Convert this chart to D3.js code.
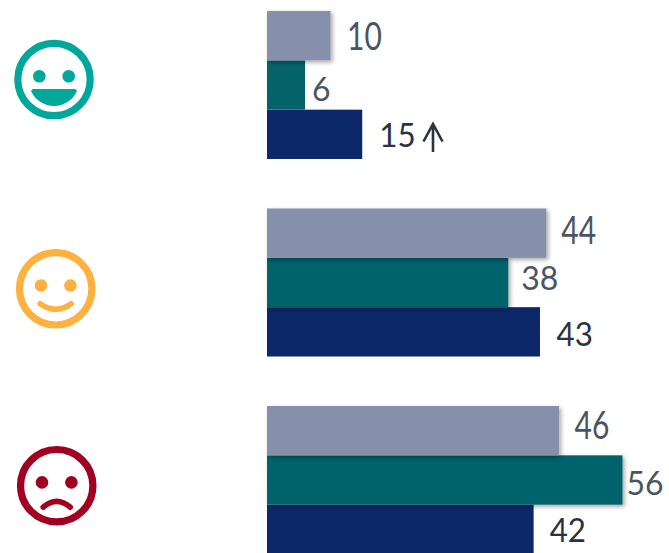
<!DOCTYPE html>
<html>
<head>
<meta charset="utf-8">
<script src="https://cdn.jsdelivr.net/npm/d3@7"></script>
<style>
  html, body { margin: 0; padding: 0; background: #fff; overflow: hidden; }
  svg { display: block; }
</style>
</head>
<body>
<div id="chart"></div>
<script>
// data
var moods = ["happy", "neutral", "sad"];
var seriesNames = ["grey", "teal", "navy"];
var greyValues = [10, 44, 46];
var tealValues = [6, 38, 56];
var navyValues = [15, 43, 42];

// colours and label look, one entry per series
var barColors = ["#8690AB", "#04626A", "#0D2869"];
var labelColors = ["#4A5564", "#4A5564", "#2B3240"];
var labelSizes = [38, 33, 33];
var labelStretch = [0.79, 0.97, 0.95];

// labels are not lined up with the bars in the original, so nudge per mood then series
var labelGaps = [[16.5, 7, 17], [15, 13, 16.5], [15.5, 4, 16]];
var labelDrops = [[14.5, 15.5, 12.5], [10.5, 7, 14], [8.5, 15, 12.7]];

var width = 669, height = 553;

var svg = d3.select("#chart")
    .append("svg")
    .attr("width", width)
    .attr("height", height);

var defs = svg.append("defs");
var shadow = defs.append("filter")
    .attr("id", "barShadow")
    .attr("x", "-10%").attr("y", "-10%")
    .attr("width", "125%").attr("height", "130%");
shadow.append("feDropShadow")
    .attr("dx", 2).attr("dy", 2)
    .attr("stdDeviation", 2.2)
    .attr("flood-color", "#000")
    .attr("flood-opacity", 0.35);

// scales
var x = d3.scaleLinear().domain([0, 56]).range([267, 622.5]);
var y0 = d3.scaleBand().domain(moods).range([11, 554]).paddingInner(0.2506).paddingOuter(0);
var y1 = d3.scaleBand().domain(seriesNames).range([0, y0.bandwidth()]);

var rows = [];
moods.forEach(function (mood, i) {
    rows.push({ mood: mood, moodIdx: i, s: 2, value: navyValues[i] });
    rows.push({ mood: mood, moodIdx: i, s: 1, value: tealValues[i] });
    rows.push({ mood: mood, moodIdx: i, s: 0, value: greyValues[i] });
});

// bars, drawn bottom up so the shadows fall on the bar below
svg.selectAll("rect.bar")
    .data(rows)
    .enter()
    .append("rect")
    .attr("class", "bar")
    .attr("x", x(0))
    .attr("y", function (d) { return y0(d.mood) + y1(seriesNames[d.s]); })
    .attr("width", function (d) { return x(d.value) - x(0); })
    .attr("height", y1.bandwidth())
    .attr("fill", function (d) { return barColors[d.s]; })
    .attr("filter", function (d) {
        return d.s == 2 || (d.s == 1 && d.moodIdx == 0) ? null : "url(#barShadow)";
    });

// value labels
svg.selectAll("text.val")
    .data(rows)
    .enter()
    .append("text")
    .attr("class", "val")
    .attr("transform", function (d) {
        var tx = x(d.value) + labelGaps[d.moodIdx][d.s];
        var ty = y0(d.mood) + y1(seriesNames[d.s]) + y1.bandwidth() / 2 + labelDrops[d.moodIdx][d.s];
        return "translate(" + tx + "," + ty + ") scale(" + labelStretch[d.s] + ",1)";
    })
    .attr("font-family", "Lato, 'Open Sans', sans-serif")
    .attr("font-size", function (d) { return labelSizes[d.s]; })
    .attr("fill", function (d) { return labelColors[d.s]; })
    .text(function (d) { return d.value; });

// up arrow beside the 15
svg.append("path")
    .attr("d", "M433,152V124M423.5,141.5L433,124L442.5,141.5")
    .attr("fill", "none")
    .attr("stroke", "#2B3240")
    .attr("stroke-width", 2.6);

// faces
var happy = svg.append("g").attr("transform", "translate(54,79.5)");
var neutral = svg.append("g").attr("transform", "translate(55.7,288.8)");
var sad = svg.append("g").attr("transform", "translate(56.7,485.7)");

function face(g, color) {
    g.append("circle")
        .attr("r", 36.2)
        .attr("fill", "none")
        .attr("stroke", color)
        .attr("stroke-width", 7.2);
    g.selectAll("circle.eye")
        .data([-14.7, 14.7])
        .enter()
        .append("circle")
        .attr("class", "eye")
        .attr("cx", function (d) { return d; })
        .attr("cy", -3.3)
        .attr("r", 6.3)
        .attr("fill", color);
}

face(happy, "#00A79B");
face(neutral, "#FFB13F");
face(sad, "#A20020");

happy.append("path")
    .attr("d", "M-20,9.5H20Q23.5,9.5,22.5,12.5C18,22,8,26.5,0,26.5C-8,26.5,-18,22,-22.5,12.5Q-23.5,9.5,-20,9.5Z")
    .attr("fill", "#00A79B");

neutral.append("path")
    .attr("d", "M-15.5,15Q0,26,15.5,15")
    .attr("fill", "none")
    .attr("stroke", "#FFB13F")
    .attr("stroke-width", 5.6)
    .attr("stroke-linecap", "round");

sad.append("path")
    .attr("d", "M-13.5,21.5Q0,10,13.5,21.5")
    .attr("fill", "none")
    .attr("stroke", "#A20020")
    .attr("stroke-width", 5.6)
    .attr("stroke-linecap", "round");
</script>
</body>
</html>
